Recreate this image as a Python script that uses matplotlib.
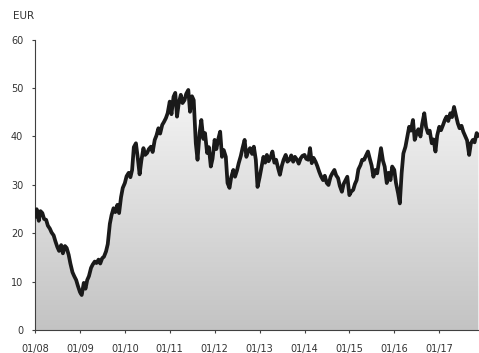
import numpy as np
import pandas as pd
import matplotlib
matplotlib.use("Agg")
import matplotlib.pyplot as plt
from matplotlib.colors import LinearSegmentedColormap

# share price in EUR, two readings per month (1st and 15th), Jan 2008 - Nov 2017
price_2008 = [23.5, 25.0, 22.6, 24.6, 24.2, 23.0, 22.8, 21.6, 21.0, 20.2, 19.6, 18.4,
              17.2, 16.4, 17.6, 15.9, 17.4, 17.0, 15.6, 13.8, 12.0, 11.2, 10.4, 9.2]
price_2009 = [7.9, 7.3, 9.8, 8.6, 10.4, 11.2, 12.9, 13.6, 14.2, 13.9, 14.6, 13.8,
              14.9, 15.2, 16.3, 17.8, 22.0, 23.8, 25.2, 24.4, 25.9, 24.2, 27.5, 29.4]
price_2010 = [30.4, 31.8, 32.5, 31.6, 33.1, 37.8, 38.6, 35.8, 32.2, 35.0, 37.6, 36.2,
              36.6, 37.4, 37.9, 36.8, 39.3, 40.2, 41.7, 40.6, 42.4, 43.0, 43.8, 44.8]
price_2011 = [47.2, 44.6, 48.2, 49.0, 44.1, 46.8, 48.6, 46.9, 47.5, 48.8, 49.6, 45.1,
              48.3, 47.5, 38.6, 35.2, 40.8, 43.4, 39.5, 40.7, 36.6, 37.8, 33.8, 35.4]
price_2012 = [39.3, 37.4, 39.6, 41.0, 35.8, 37.2, 35.8, 30.4, 29.4, 31.6, 33.1, 31.7,
              33.0, 34.5, 36.0, 37.6, 39.3, 35.8, 37.0, 37.6, 36.4, 37.9, 35.2, 29.6]
price_2013 = [31.6, 33.5, 35.8, 34.6, 36.2, 34.9, 35.8, 36.9, 34.6, 35.2, 33.4, 32.1,
              34.0, 35.2, 36.2, 34.8, 35.2, 36.1, 34.8, 35.8, 35.2, 34.4, 35.5, 36.0]
price_2014 = [36.2, 35.4, 35.2, 37.6, 34.5, 35.6, 34.8, 33.9, 32.7, 31.8, 31.0, 31.9,
              30.4, 30.0, 31.7, 32.4, 33.1, 32.0, 31.4, 29.8, 28.6, 30.2, 31.0, 31.7]
price_2015 = [27.9, 28.6, 29.0, 30.2, 31.0, 33.2, 34.1, 35.2, 35.2, 36.0, 36.9, 35.5,
              34.0, 31.7, 33.1, 32.4, 35.2, 37.6, 35.0, 33.8, 30.4, 32.5, 31.0, 33.8]
price_2016 = [33.1, 30.4, 28.3, 26.2, 32.5, 36.5, 37.9, 39.8, 42.0, 41.2, 43.4, 39.3,
              40.7, 41.5, 40.0, 42.6, 44.8, 42.0, 40.7, 41.2, 38.6, 39.4, 36.9, 40.2]
price_2017 = [42.0, 41.3, 42.4, 43.4, 44.1, 43.2, 44.8, 44.0, 46.1, 44.5, 42.7, 41.7,
              42.2, 41.0, 40.0, 39.2, 36.2, 38.6, 39.3, 38.8, 40.7, 40.2]

prices = (price_2008 + price_2009 + price_2010 + price_2011 + price_2012
          + price_2013 + price_2014 + price_2015 + price_2016 + price_2017)
dates = pd.date_range("2008-01-01", periods=len(prices), freq="SMS")

tick_years = list(range(2008, 2018))
tick_labels = ["01/%02d" % (y % 100) for y in tick_years]

fig = plt.figure(figsize=(4.79, 3.53), dpi=100)
ax = fig.add_axes([0.073, 0.064, 0.927, 0.824])

x = matplotlib.dates.date2num(dates)
xmin = matplotlib.dates.date2num(pd.Timestamp("2008-01-01"))
xmax = matplotlib.dates.date2num(pd.Timestamp("2017-11-20"))

# gradient fill under the line
cmap = LinearSegmentedColormap.from_list("fade", ["#c3c3c3", "#ffffff"])
grad = np.linspace(0, 1, 256).reshape(-1, 1)
img = ax.imshow(grad, cmap=cmap, aspect="auto", origin="lower",
                extent=[xmin, xmax, 0, 60], zorder=1)
poly = ax.fill_between(x, 0, prices, color="none", linewidth=0)
img.set_clip_path(poly.get_paths()[0], transform=ax.transData)

ax.plot(x, prices, color="#1a1a1a", linewidth=2.7, zorder=3)

ax.set_xlim(xmin, xmax)
ax.set_ylim(0, 60)
ax.set_yticks(range(0, 61, 10))
ax.set_xticks([matplotlib.dates.date2num(pd.Timestamp("%d-01-01" % y)) for y in tick_years])
ax.set_xticklabels(tick_labels)

for side in ["top", "right"]:
    ax.spines[side].set_visible(False)
for side in ["left", "bottom"]:
    ax.spines[side].set_color("#404040")
    ax.spines[side].set_linewidth(0.8)
ax.tick_params(axis="both", length=2.5, width=0.8, color="#404040",
               labelsize=7, labelcolor="#333333", pad=7)
ax.tick_params(axis="y", pad=6)

fig.text(0.028, 0.955, "EUR", fontsize=7.5, color="#333333", va="center")

fig.savefig("out.png", dpi=100)
